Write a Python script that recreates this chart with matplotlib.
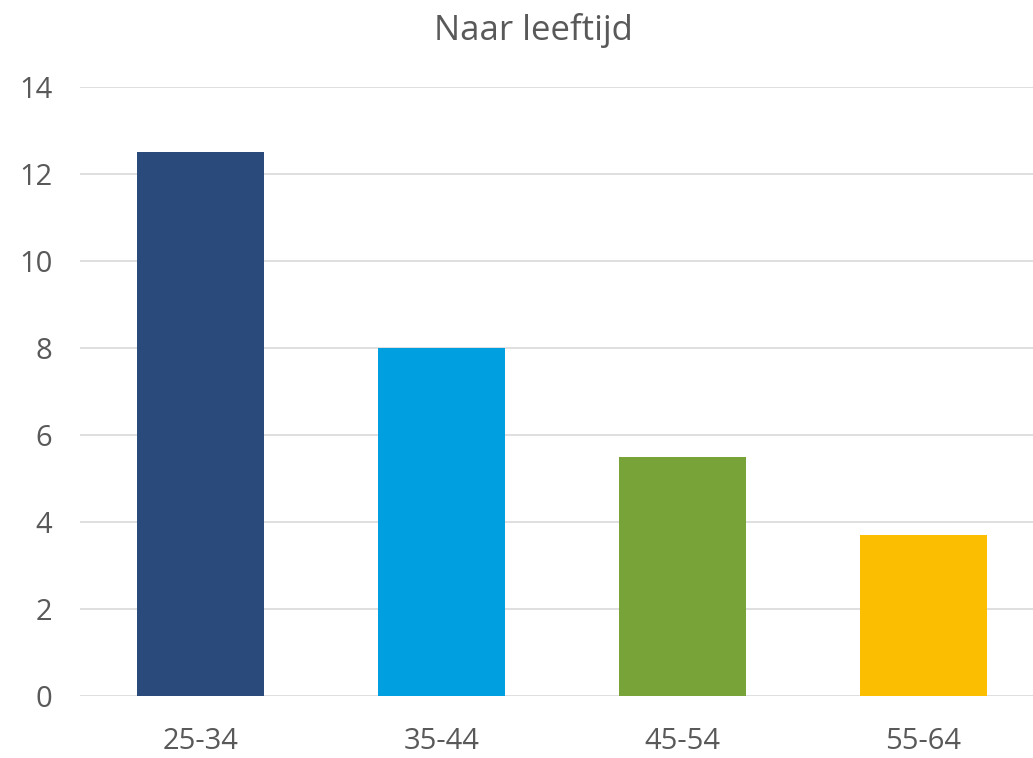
import numpy as np
from matplotlib import pyplot as plt

# data
ageGroups = ["25-34", "35-44", "45-54", "55-64"]
values = [12.5, 8.0, 5.5, 3.7]
barColors = ["#2A4A7B", "#00A0E0", "#78A339", "#FBBE00"]
yTicks = [0, 2, 4, 6, 8, 10, 12, 14]

plt.rcParams['font.family'] = ['Open Sans', 'DejaVu Sans']

fig = plt.figure(figsize=(10.33, 7.58), dpi=100)
ax = fig.add_axes([80/1033, 62/758, 953/1033, 609/758])

x = np.arange(len(ageGroups))
ax.bar(x, values, width=0.527, color=barColors, zorder=3)

ax.set_xlim(-0.5, -0.5 + 953/241)
ax.set_ylim(0, 14)
ax.set_yticks(yTicks)
ax.set_xticks(x)
ax.set_xticklabels(ageGroups)
ax.grid(axis="y", color="#D9D9D9", linewidth=1.2, zorder=0)
for side in ["top", "right", "left", "bottom"]:
    ax.spines[side].set_visible(False)
ax.tick_params(axis="both", length=0, labelsize=21, colors="#595959")
ax.tick_params(axis="y", pad=20)
ax.tick_params(axis="x", pad=22)

fig.text(533/1033, 1 - 30/758, "Naar leeftijd", ha="center", va="center",
         fontsize=25, color="#595959")

fig.savefig("out.png", dpi=100)
